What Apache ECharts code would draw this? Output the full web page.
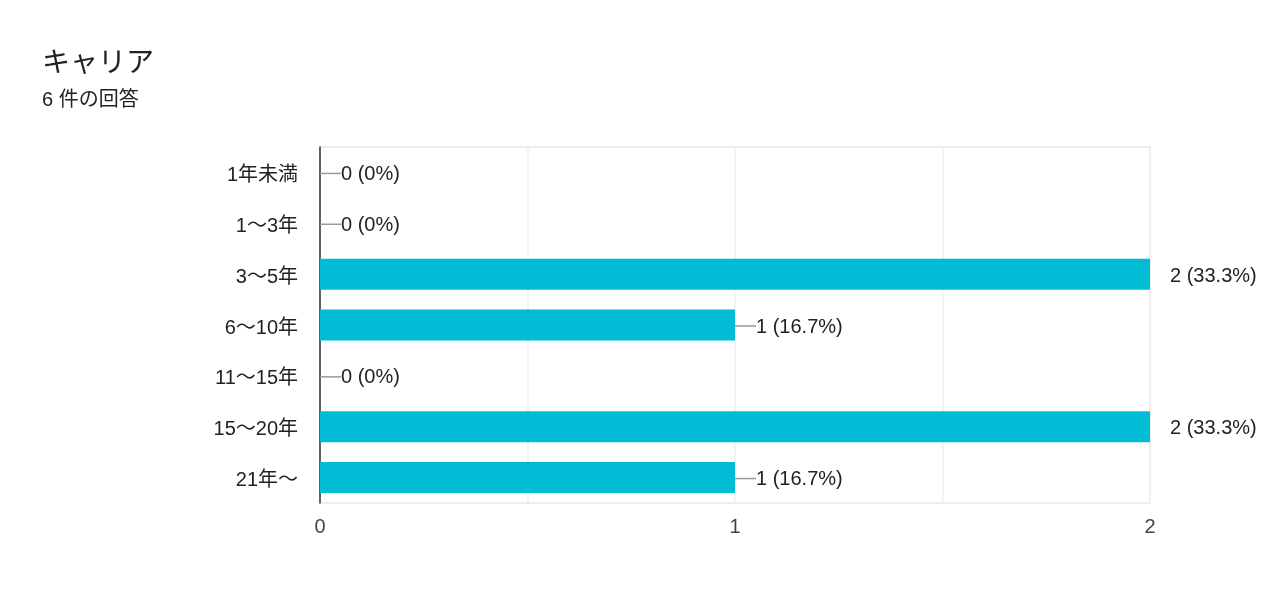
<!DOCTYPE html>
<html><head><meta charset="utf-8">
<script src="https://cdn.jsdelivr.net/npm/echarts@6/dist/echarts.min.js"></script>
<style>html,body{margin:0;padding:0;background:#fff}#c{width:1280px;height:608px}</style>
</head><body><div id="c"></div>
<script>
var titleText = 'キャリア';
var subtitleText = '6 件の回答';
var categories = ['1年未満', '1〜3年', '3〜5年', '6〜10年', '11〜15年', '15〜20年', '21年〜'];
var counts = [0, 0, 2, 1, 0, 2, 1];
var percents = ['0%', '0%', '33.3%', '16.7%', '0%', '33.3%', '16.7%'];
var xTicks = [0, 1, 2];

var FONT = '"Liberation Sans", Arial, "Noto Sans CJK JP", sans-serif';
var xMax = xTicks[xTicks.length - 1];
var chart = echarts.init(document.getElementById('c'));
chart.setOption({
  animation: false,
  title: [
    {text: titleText, left: 37, top: 45, textStyle: {fontFamily: FONT, fontSize: 28, fontWeight: 'normal', color: '#202124'}},
    {text: subtitleText, left: 37, top: 85, textStyle: {fontFamily: FONT, fontSize: 20, fontWeight: 'normal', color: '#202124'}}
  ],
  grid: {left: 320, right: 130, top: 147, bottom: 105, show: true, borderColor: '#ececec', borderWidth: 2, backgroundColor: 'transparent'},
  xAxis: {
    type: 'value', min: 0, max: xMax, interval: 0.5,
    axisLine: {show: false}, axisTick: {show: false},
    splitLine: {lineStyle: {color: '#efefef', width: 1.5}},
    axisLabel: {
      fontFamily: FONT, fontSize: 20, color: '#444', margin: 14,
      formatter: function (v) { return xTicks.indexOf(v) >= 0 ? String(v) : ''; }
    }
  },
  yAxis: {
    type: 'category', data: categories, inverse: true,
    axisLine: {lineStyle: {color: '#333', width: 1.5}},
    axisTick: {show: false},
    axisLabel: {
      fontFamily: FONT, fontSize: 20, color: '#222', margin: 22,
      formatter: function (v) { return '{a|' + v + '}'; },
      rich: {a: {fontFamily: FONT, fontSize: 20, color: '#222', padding: [6, 0, 0, 0]}}
    }
  },
  series: [{
    type: 'bar', data: counts, barWidth: 31,
    itemStyle: {color: '#00bcd4'},
    label: {
      show: true, position: 'right', distance: 0, offset: [0, 1],
      fontFamily: FONT, fontSize: 20, color: '#222',
      formatter: function (p) {
        var t = p.value + ' (' + percents[p.dataIndex] + ')';
        return (p.value >= xMax ? '{g|}' : '{l|}') + '{t|' + t + '}';
      },
      rich: {
        l: {width: 21, height: 1.5, backgroundColor: '#999'},
        g: {width: 20, height: 1.5, backgroundColor: 'transparent'},
        t: {fontFamily: FONT, fontSize: 20, color: '#222', padding: [2, 0, 0, 0]}
      }
    }
  }]
});
</script></body></html>
